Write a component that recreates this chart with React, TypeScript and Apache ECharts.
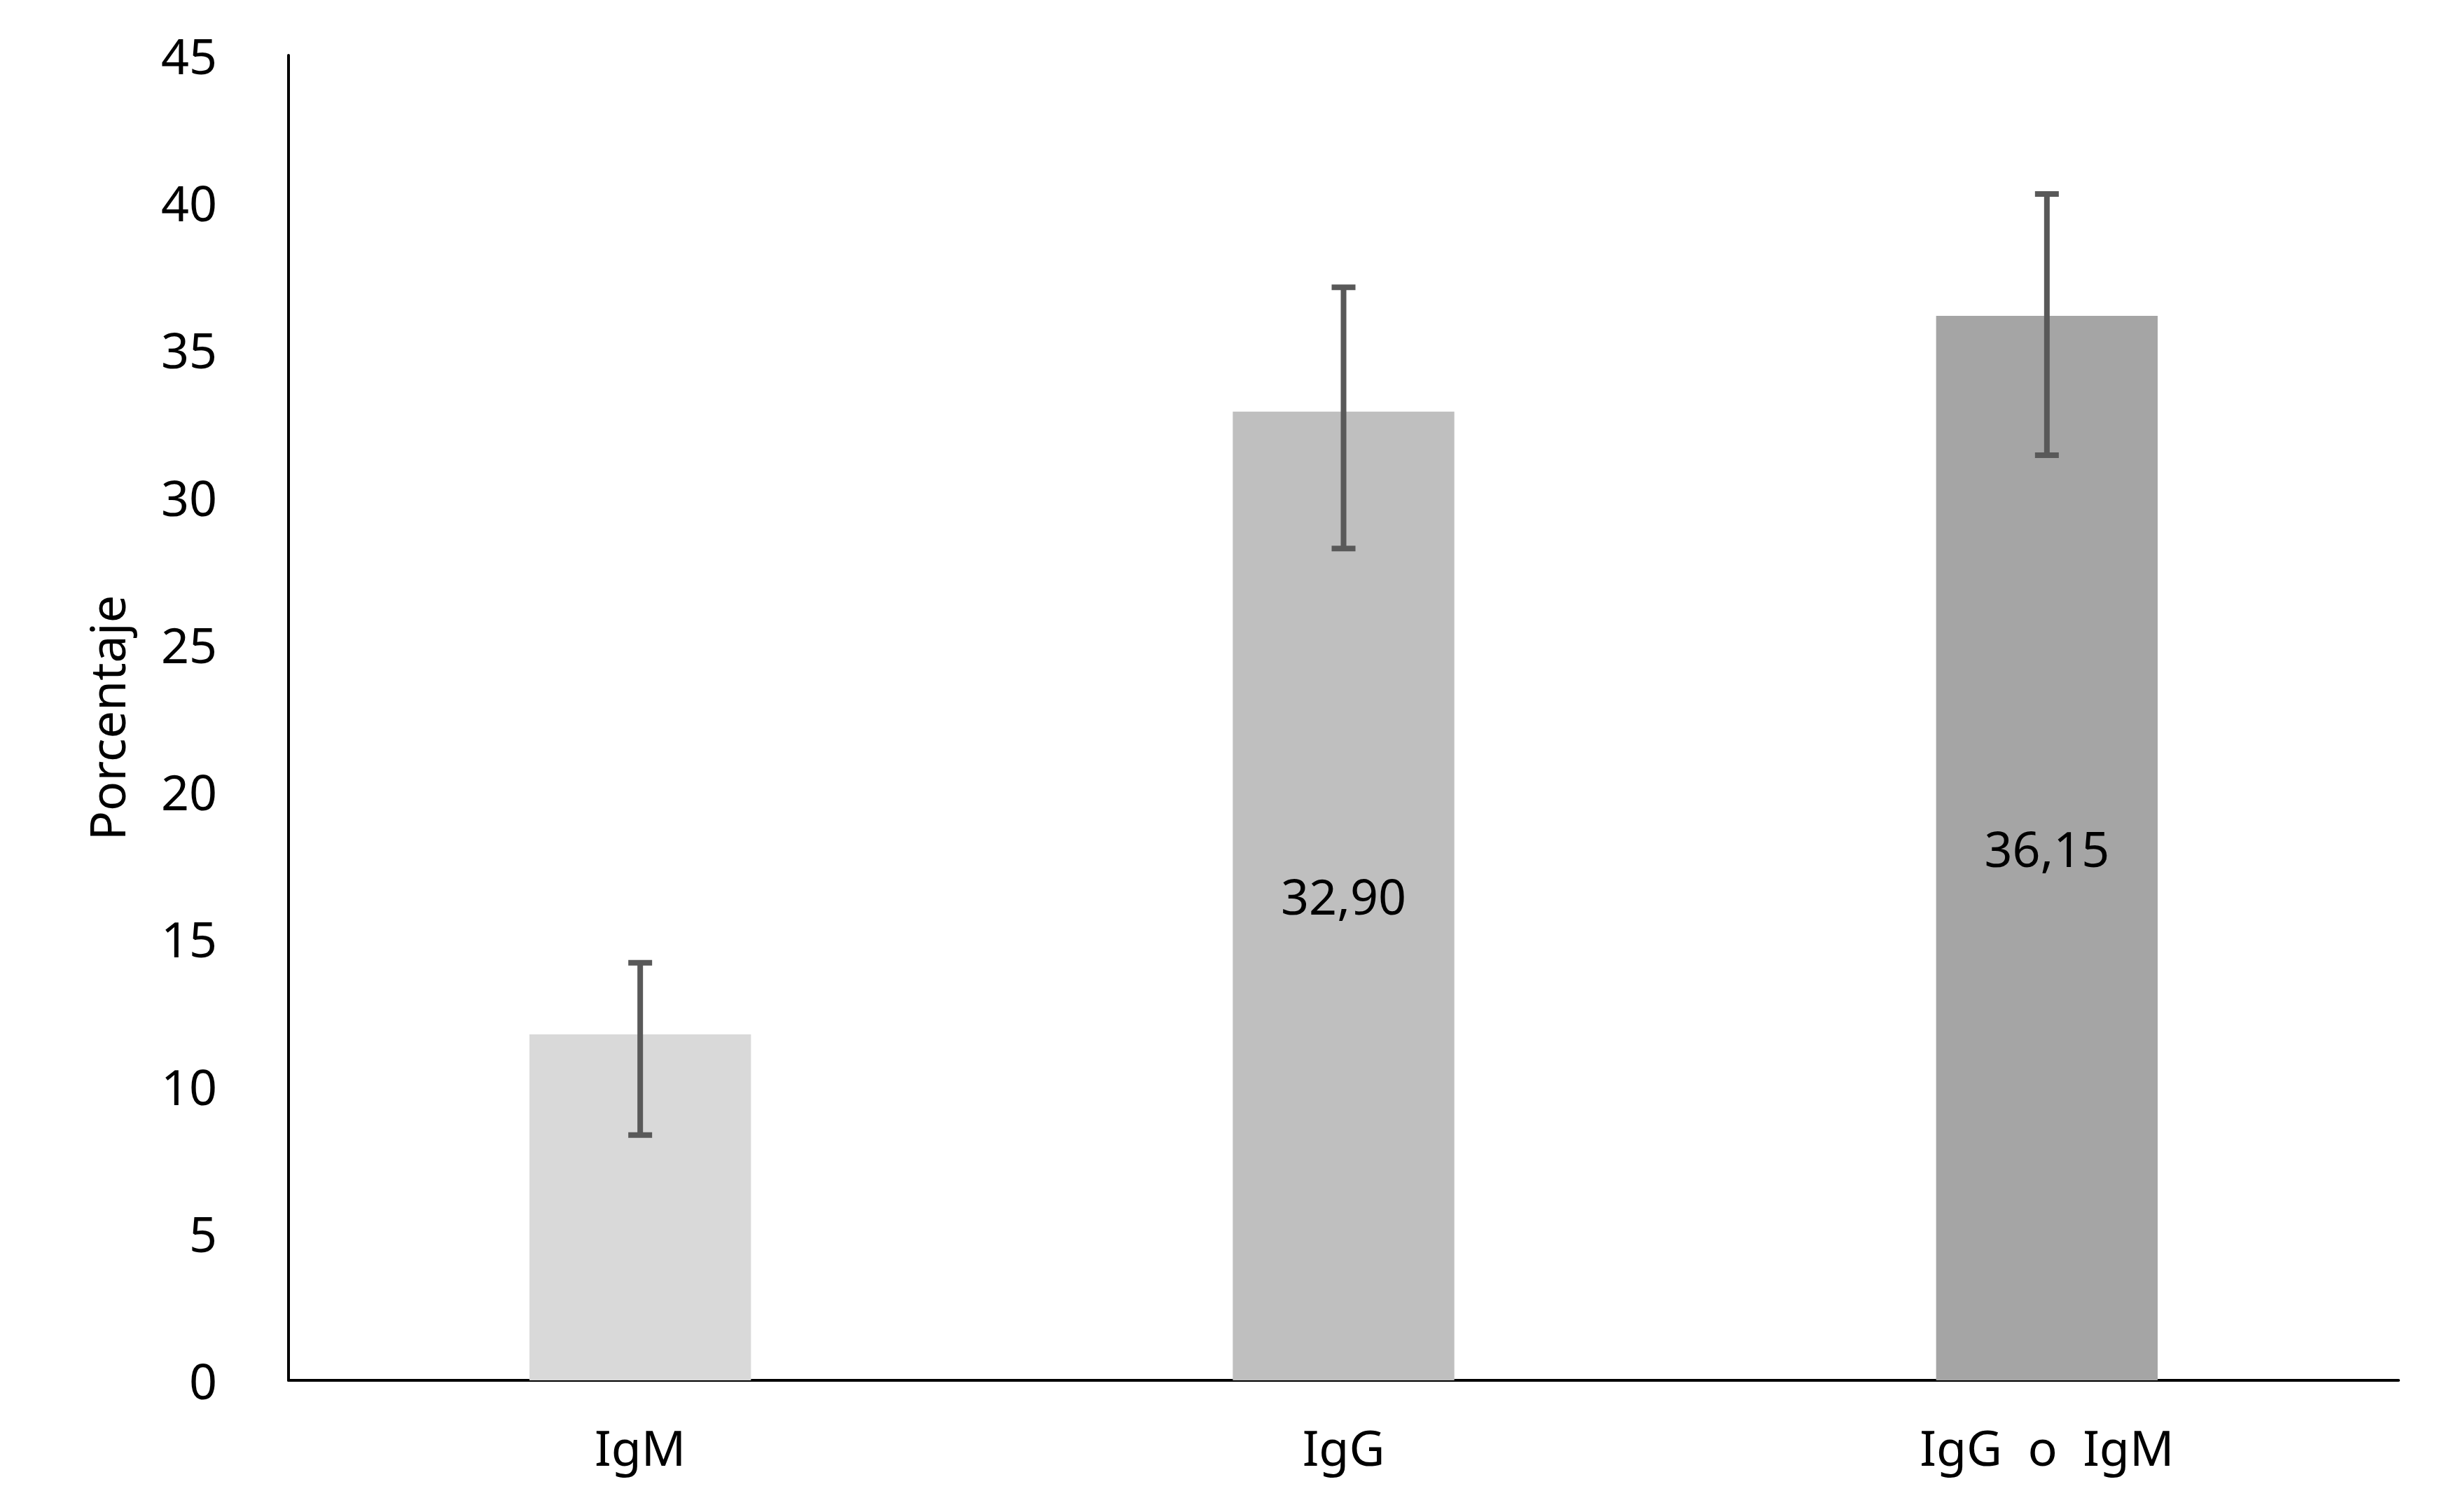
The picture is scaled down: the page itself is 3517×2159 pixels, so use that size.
import React, { useEffect, useRef } from "react";
import * as echarts from "echarts";

// datos
const categories = ["IgM", "IgG", "IgG  o  IgM"];
const values = [11.75, 32.9, 36.15];
const errLow = [8.33, 28.25, 31.42];
const errHigh = [14.18, 37.12, 40.29];
const barColors = ["#d9d9d9", "#bfbfbf", "#a5a5a5"];
const showLabel = [false, true, true];

const yMin = 0;
const yMax = 45;
const yStep = 5;

const FONT = "'Noto Sans', 'DejaVu Sans', sans-serif";

const App = () => {
  const chartRef = useRef<HTMLDivElement>(null);

  useEffect(() => {
    const chart = echarts.init(chartRef.current, null, { renderer: "svg" });

    chart.setOption({
      animation: false,
      backgroundColor: "#ffffff",
      textStyle: { fontFamily: FONT },
      grid: {
        left: 412,
        right: 92,
        top: 79,
        bottom: 188,
        containLabel: false,
      },
      xAxis: {
        type: "category",
        data: categories,
        axisLine: { lineStyle: { color: "#000000", width: 4 } },
        axisTick: { show: false },
        axisLabel: {
          color: "#000000",
          fontSize: 70,
          fontFamily: FONT,
          margin: 60,
        },
      },
      yAxis: {
        type: "value",
        min: yMin,
        max: yMax,
        interval: yStep,
        name: "Porcentaje",
        nameLocation: "middle",
        nameGap: 225,
        nameTextStyle: { color: "#000000", fontSize: 70, fontFamily: FONT },
        axisLine: { show: true, lineStyle: { color: "#000000", width: 4 } },
        axisTick: { show: false },
        splitLine: { show: false },
        axisLabel: {
          color: "#000000",
          fontSize: 70,
          fontFamily: FONT,
          margin: 102,
        },
      },
      series: [
        {
          type: "bar",
          barWidth: "31.5%",
          data: values.map((v, i) => ({
            value: v,
            itemStyle: { color: barColors[i] },
            label: { show: showLabel[i] },
          })),
          label: {
            position: "inside",
            color: "#000000",
            fontSize: 70,
            fontFamily: FONT,
            formatter: (p: any) => Number(p.value).toFixed(2).replace(".", ","),
          },
        },
        {
          type: "custom",
          z: 10,
          data: categories.map((_, i) => [i, errLow[i], errHigh[i]]),
          renderItem: (params: any, api: any) => {
            const idx = api.value(0);
            const lo = api.coord([idx, api.value(1)]);
            const hi = api.coord([idx, api.value(2)]);
            const half = 17;
            const style = { stroke: "#595959", lineWidth: 8 };
            return {
              type: "group",
              children: [
                { type: "line", shape: { x1: hi[0], y1: hi[1], x2: lo[0], y2: lo[1] }, style },
                { type: "line", shape: { x1: hi[0] - half, y1: hi[1], x2: hi[0] + half, y2: hi[1] }, style },
                { type: "line", shape: { x1: lo[0] - half, y1: lo[1], x2: lo[0] + half, y2: lo[1] }, style },
              ],
            };
          },
        },
      ],
    });

    return () => {
      chart.dispose();
    };
  }, []);

  return (
    <div
      ref={chartRef}
      style={{ position: "fixed", left: 0, top: 0, width: "3517px", height: "2159px" }}
    ></div>
  );
};

export default App;
